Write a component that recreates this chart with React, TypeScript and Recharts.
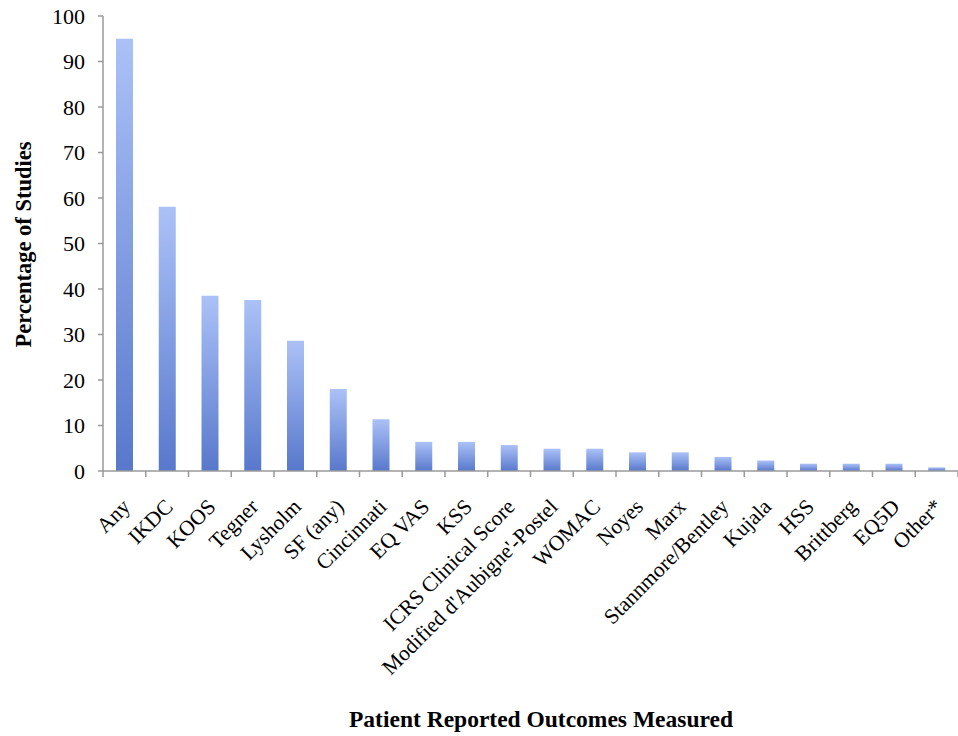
import React from 'react';
import { BarChart, Bar, XAxis, YAxis } from 'recharts';

const categories = [
  'Any',
  'IKDC',
  'KOOS',
  'Tegner',
  'Lysholm',
  'SF (any)',
  'Cincinnati',
  'EQ VAS',
  'KSS',
  'ICRS Clinical Score',
  "Modified d'Aubigne'-Postel",
  'WOMAC',
  'Noyes',
  'Marx',
  'Stannmore/Bentley',
  'Kujala',
  'HSS',
  'Brittberg',
  'EQ5D',
  'Other*',
];
const percentages = [95, 58.1, 38.5, 37.6, 28.6, 18, 11.4, 6.4, 6.4, 5.7, 4.9, 4.9, 4.1, 4.1, 3.1, 2.3, 1.6, 1.6, 1.6, 0.8];
const yTicks = [0, 10, 20, 30, 40, 50, 60, 70, 80, 90, 100];

const data = categories.map((name, i) => ({ name, value: percentages[i] }));

const W = 958;
const H = 736;
const PLOT_LEFT = 103;
const PLOT_RIGHT = 958;
const BAND = (PLOT_RIGHT - PLOT_LEFT) / categories.length;
const SERIF = '"Liberation Serif", "Times New Roman", serif';
const AXIS = '#9a9a9a';

function CategoryTick(props: any) {
  const { x, y, payload, index } = props;
  const ax = x + 7;
  const ay = y + 29;
  return (
    <g>
      <line x1={x - BAND / 2} y1={y - 8} x2={x - BAND / 2} y2={y - 2} stroke={AXIS} strokeWidth={1.5} />
      {index === categories.length - 1 && (
        <line x1={x + BAND / 2} y1={y - 8} x2={x + BAND / 2} y2={y - 2} stroke={AXIS} strokeWidth={1.5} />
      )}
      <text
        x={ax}
        y={ay}
        transform={`rotate(-45 ${ax} ${ay})`}
        textAnchor="end"
        fontFamily={SERIF}
        fontSize={21.5}
        fill="#000"
      >
        {payload.value}
      </text>
    </g>
  );
}

function YTitle(props: any) {
  const { viewBox } = props;
  const cx = 23;
  const cy = viewBox.y + viewBox.height / 2 + 1;
  return (
    <text
      x={cx}
      y={cy}
      transform={`rotate(-90 ${cx} ${cy})`}
      textAnchor="middle"
      dominantBaseline="central"
      fontFamily={SERIF}
      fontWeight="bold"
      fontSize={22.5}
      fill="#000"
    >
      Percentage of Studies
    </text>
  );
}

function XTitle() {
  return (
    <text x={541} y={727} textAnchor="middle" fontFamily={SERIF} fontWeight="bold" fontSize={23.5} fill="#000">
      Patient Reported Outcomes Measured
    </text>
  );
}

export default function App() {
  return (
    <div style={{ position: 'absolute', left: 0, top: 0, width: W, height: H, background: '#fff' }}>
      <BarChart
        width={W}
        height={H}
        data={data}
        margin={{ top: 16, right: W - PLOT_RIGHT, bottom: 0, left: 0 }}
        barSize={17}
      >
        <defs>
          <linearGradient id="barFill" x1="0" y1="0" x2="0" y2="1">
            <stop offset="0%" stopColor="#abc1f7" />
            <stop offset="100%" stopColor="#5878cc" />
          </linearGradient>
        </defs>
        <XAxis
          dataKey="name"
          interval={0}
          height={265}
          tick={<CategoryTick />}
          tickLine={false}
          axisLine={{ stroke: AXIS, strokeWidth: 1.5 }}
          label={<XTitle />}
        />
        <YAxis
          domain={[0, 100]}
          ticks={yTicks}
          width={PLOT_LEFT}
          tickSize={5}
          tickMargin={13}
          tickLine={{ stroke: AXIS, strokeWidth: 1.5 }}
          axisLine={{ stroke: AXIS, strokeWidth: 1.5 }}
          tick={{ fontFamily: SERIF, fontSize: 22, fill: '#000' }}
          label={<YTitle />}
        />
        <Bar dataKey="value" fill="url(#barFill)" isAnimationActive={false} />
      </BarChart>
    </div>
  );
}
